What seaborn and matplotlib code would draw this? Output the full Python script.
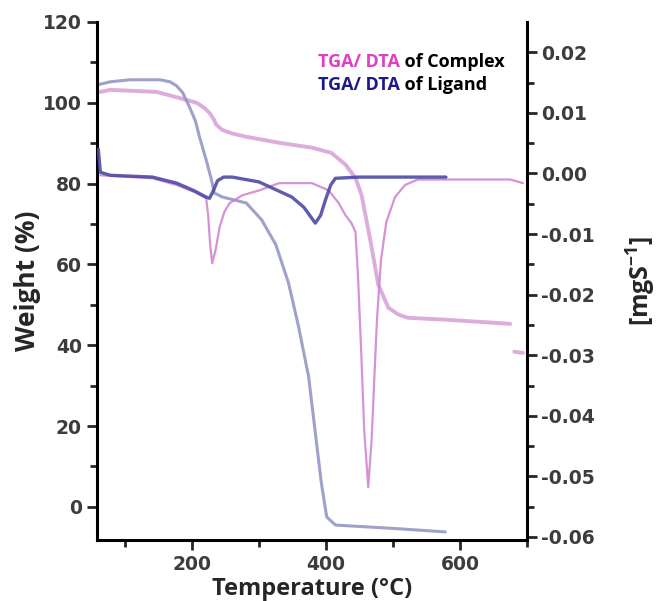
import numpy as np
import pandas as pd
import matplotlib
matplotlib.use("Agg")
import matplotlib.pyplot as plt
import seaborn as sns

# Values
# Ligand TGA: temperature (C) and weight (%)
lig_tga_temp = [60, 78, 107, 152, 167, 177, 186, 196, 205, 211, 221, 229, 233, 245, 281,
                304, 325, 344, 359, 374, 384, 393, 401, 414, 507, 578]
lig_tga_weight = [104.5, 105.2, 105.7, 105.7, 105.2, 104.2, 102.5, 99.0, 95.5, 91.6, 85.9,
                  80.9, 77.7, 76.7, 75.2, 71.0, 64.9, 55.4, 44.6, 32.2, 18.3, 5.9, -2.5,
                  -4.5, -5.4, -6.2]

# Complex TGA
cpx_tga_temp = [63, 78, 147, 181, 207, 218, 226, 232, 236, 245, 260, 281, 330, 379, 408,
                429, 444, 453, 466, 478, 493, 508, 522, 581, 675]
cpx_tga_weight = [102.7, 103.2, 102.7, 101.2, 100.0, 98.8, 97.5, 96.0, 94.6, 93.3, 92.4,
                  91.6, 90.1, 88.9, 87.6, 84.7, 81.4, 77.2, 66.1, 55.0, 49.3, 47.6, 46.8,
                  46.3, 45.3]
# short detached piece of the complex TGA next to the right axis
cpx_stub_temp = [681, 694]
cpx_stub_weight = [38.4, 38.1]

# Ligand DTA: temperature (C) and signal (mg/s)
lig_dta_temp = [60, 63, 78, 141, 177, 204, 221, 226, 232, 238, 247, 260, 300, 349, 367,
                384, 392, 399, 407, 414, 449, 579]
lig_dta_val = [0.0040, 0.0002, -0.0003, -0.0006, -0.0016, -0.0029, -0.0039, -0.0041,
               -0.0028, -0.0012, -0.0006, -0.0006, -0.0014, -0.0039, -0.0056, -0.0082,
               -0.0069, -0.0044, -0.0019, -0.0008, -0.0006, -0.0006]

# Complex DTA
cpx_dta_temp = [63, 141, 177, 204, 221, 224, 227, 230, 235, 241, 248, 256, 275, 300, 330,
                379, 404, 419, 429, 438, 444, 448, 453, 457, 463, 468, 472, 476, 482,
                490, 503, 518, 537, 675, 694]
cpx_dta_val = [-0.0003, -0.0008, -0.0019, -0.0031, -0.0041, -0.0069, -0.0118, -0.0148,
               -0.0127, -0.0089, -0.0064, -0.0049, -0.0036, -0.0028, -0.0016, -0.0016,
               -0.0028, -0.0049, -0.0069, -0.0082, -0.0097, -0.0176, -0.0308, -0.0424,
               -0.0518, -0.0440, -0.0341, -0.0242, -0.0143, -0.0080, -0.0039, -0.0019,
               -0.0010, -0.0010, -0.0016]

x_ticks = [200, 400, 600]
left_ticks = [0, 20, 40, 60, 80, 100, 120]
right_ticks = [0.02, 0.01, 0.00, -0.01, -0.02, -0.03, -0.04, -0.05, -0.06]

COMPLEX_TGA = "#d9a3d9"
COMPLEX_DTA = "#cf7fcf"
LIGAND_TGA = "#9497c4"
LIGAND_DTA = "#4e4aa6"

sns.set_style("ticks")
plt.rcParams['font.family'] = ['DejaVu Sans']
plt.rcParams['mathtext.fontset'] = 'custom'
plt.rcParams['mathtext.rm'] = 'Open Sans:bold'
plt.rcParams['mathtext.bf'] = 'Open Sans:bold'

fig = plt.figure(figsize=(6.57, 6.01), dpi=100)
ax = fig.add_axes([0.1476, 0.1015, 0.6545, 0.8619])
ax2 = ax.twinx()

# DTA curves on the right axis
sns.lineplot(x=cpx_dta_temp, y=cpx_dta_val, ax=ax2, sort=False, color=COMPLEX_DTA,
             lw=1.6, alpha=0.85)
sns.lineplot(x=lig_dta_temp, y=lig_dta_val, ax=ax2, sort=False, color=LIGAND_DTA,
             lw=2.4, alpha=0.9)

# TGA curves on the left axis
sns.lineplot(x=cpx_tga_temp, y=cpx_tga_weight, ax=ax, sort=False, color=COMPLEX_TGA,
             lw=2.8, alpha=0.9)
sns.lineplot(x=cpx_stub_temp, y=cpx_stub_weight, ax=ax, sort=False, color=COMPLEX_TGA,
             lw=2.8, alpha=0.9)
sns.lineplot(x=lig_tga_temp, y=lig_tga_weight, ax=ax, sort=False, color=LIGAND_TGA,
             lw=2.2, alpha=0.9)

ax.set_xlim(58, 696)
ax.set_ylim(-8.2, 120)
ax2.set_ylim(-0.0605, 0.025)

ax.set_xticks(x_ticks)
ax.set_xticks([100, 300, 500, 700], minor=True)
ax.set_yticks(left_ticks)
ax.set_yticks([10, 30, 50, 70, 90, 110], minor=True)
ax2.set_yticks(right_ticks)
ax2.set_yticklabels([f"{v:.2f}" for v in right_ticks])
ax2.set_yticks(np.arange(-0.055, 0.025, 0.01), minor=True)

for a in (ax, ax2):
    for lab in a.get_xticklabels() + a.get_yticklabels():
        lab.set_fontweight('bold')
        lab.set_color('#3c3c3c')
        lab.set_fontsize(13.5)
    for side in a.spines:
        a.spines[side].set_linewidth(2.2)
        a.spines[side].set_color('black')
    a.spines['top'].set_visible(False)

ax.spines['right'].set_visible(False)
ax2.spines['left'].set_visible(False)
ax2.spines['bottom'].set_visible(False)

ax.tick_params(axis='both', which='major', length=7, width=2, direction='out', pad=4)
ax.tick_params(axis='both', which='minor', length=5, width=2, direction='out')
ax2.tick_params(axis='y', which='major', length=7, width=2, direction='out', pad=3)
ax2.tick_params(axis='y', which='minor', length=5, width=2, direction='out')

label_font = dict(family=['Open Sans', 'DejaVu Sans'], fontweight='bold', fontsize=17)
ax.set_xlabel("Temperature (°C)", labelpad=2, **label_font)
ax.set_ylabel("Weight (%)", labelpad=1, family=['Open Sans', 'DejaVu Sans'],
              fontweight='bold', fontsize=19)
ax2.set_ylabel("[mgS$^{-1}$]", labelpad=22, family=['Open Sans', 'DejaVu Sans'],
               fontweight='bold', fontsize=18)

# Two-colour legend lines
leg_font = dict(family=['Open Sans', 'DejaVu Sans'], fontweight='bold', fontsize=13)
t1 = ax.text(0.514, 0.923, "TGA/ DTA", transform=ax.transAxes, color='#e040c0',
             va='center', ha='left', **leg_font)
ax.annotate(" of Complex", xy=(1, 0), xycoords=t1, va='bottom', ha='left',
            color='black', **leg_font)
t2 = ax.text(0.514, 0.878, "TGA/ DTA", transform=ax.transAxes, color='#1c1a8a',
             va='center', ha='left', **leg_font)
ax.annotate(" of Ligand", xy=(1, 0), xycoords=t2, va='bottom', ha='left',
            color='black', **leg_font)

fig.savefig("out.png", dpi=100)
plt.close(fig)
